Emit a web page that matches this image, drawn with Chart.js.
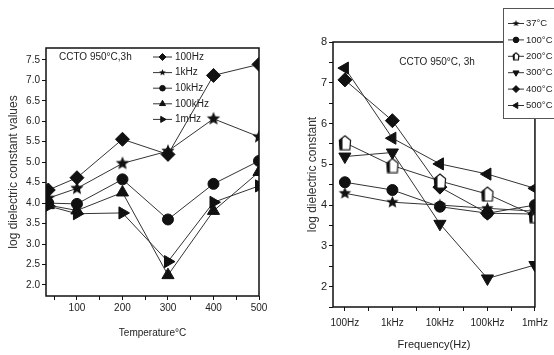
<!DOCTYPE html>
<html>
<head>
<meta charset="utf-8">
<script src="https://cdn.jsdelivr.net/npm/chart.js@4.4.1/dist/chart.umd.min.js"></script>
<style>
body { margin: 0; background: #fff; }
#wrap { position: relative; width: 554px; height: 355px; overflow: hidden; background: #fff; }
#left { position: absolute; left: 0; top: 0; }
#right { position: absolute; left: 280px; top: 0; }
</style>
</head>
<body>
<div id="wrap">
  <canvas id="left" width="280" height="355"></canvas>
  <canvas id="right" width="274" height="355"></canvas>
</div>
<script>
// left panel - values vs temperature
var temps = [37, 100, 200, 300, 400, 500];
var freqNames = ['100Hz', '1kHz', '10kHz', '100kHz', '1mHz'];
var hz100 = [4.32, 4.62, 5.56, 5.19, 7.12, 7.39];
var khz1 = [4.12, 4.36, 4.97, 5.27, 6.06, 5.62];
var khz10 = [4.0, 3.98, 4.58, 3.6, 4.47, 5.03];
var khz100 = [3.95, 3.82, 4.26, 2.24, 3.81, 4.76];
var mhz1 = [3.93, 3.74, 3.76, 2.57, 4.02, 4.42];
var tempTicks = [50, 100, 150, 200, 250, 300, 350, 400, 450, 500];
var leftYTicks = [2.0, 2.5, 3.0, 3.5, 4.0, 4.5, 5.0, 5.5, 6.0, 6.5, 7.0, 7.5];

// right panel - values vs frequency
var freqTicks = ['100Hz', '1kHz', '10kHz', '100kHz', '1mHz'];
var tempNames = ['37°C', '100°C', '200°C', '300°C', '400°C', '500°C'];
var t37 = [4.29, 4.07, 4.0, 3.92, 3.85];
var t100 = [4.56, 4.37, 3.96, 3.8, 4.0];
var t200 = [5.53, 4.97, 4.59, 4.27, 3.74];
var t300 = [5.19, 5.29, 3.54, 2.2, 2.53];
var t400 = [7.07, 6.07, 4.44, 3.8, 3.78];
var t500 = [7.36, 5.64, 5.01, 4.76, 4.41];
var rightYTicks = [1.5, 2, 2.5, 3, 3.5, 4, 4.5, 5, 5.5, 6, 6.5, 7, 7.5, 8];
var freqPos = [0, 0.5, 1, 1.5, 2, 2.5, 3, 3.5, 4];

var ink = '#111';
var lineCol = '#333';
var sans = "'Liberation Sans', Arial, sans-serif";

function starCanvas(r) {
  var s = Math.ceil(r * 2 + 2);
  var c = document.createElement('canvas');
  c.width = s; c.height = s;
  var g = c.getContext('2d');
  g.fillStyle = ink;
  g.beginPath();
  for (var i = 0; i < 10; i++) {
    var rr = i % 2 ? r * 0.45 : r;
    var a = -Math.PI / 2 + i * Math.PI / 5;
    g.lineTo(s / 2 + rr * Math.cos(a), s / 2 + rr * Math.sin(a));
  }
  g.closePath();
  g.fill();
  return c;
}

function halfCanvas(r) {
  var w = Math.ceil(r * 1.7 + 2), h = Math.ceil(r * 2 + 2);
  var c = document.createElement('canvas');
  c.width = w; c.height = h;
  var g = c.getContext('2d');
  var cx = w / 2, cy = h / 2;
  g.beginPath();
  g.moveTo(cx, cy - r);
  g.lineTo(cx + r * 0.8, cy - r * 0.35);
  g.lineTo(cx + r * 0.7, cy + r);
  g.lineTo(cx - r * 0.7, cy + r);
  g.lineTo(cx - r * 0.8, cy - r * 0.35);
  g.closePath();
  g.fillStyle = '#fff';
  g.fill();
  g.save();
  g.clip();
  g.fillStyle = ink;
  g.fillRect(0, 0, cx - r * 0.35, h);
  g.restore();
  g.lineWidth = 1.2;
  g.strokeStyle = ink;
  g.stroke();
  return c;
}

function pts(xs, ys) {
  return ys.map(function (v, i) { return { x: xs[i], y: v }; });
}

function series(label, xs, ys, style, radius, rot, legendStyle, legendR) {
  return {
    label: label,
    data: pts(xs, ys),
    borderColor: lineCol,
    borderWidth: 1,
    backgroundColor: ink,
    pointBackgroundColor: ink,
    pointBorderColor: ink,
    pointBorderWidth: 1,
    pointStyle: style,
    pointRadius: radius,
    pointRotation: rot || 0,
    tension: 0,
    legendStyle: legendStyle || style,
    legendR: legendR
  };
}

// frame + legend + note drawn over the plot
var extras = {
  id: 'extras',
  afterDraw: function (chart) {
    var ctx = chart.ctx, a = chart.chartArea, o = chart.options.plugins.extras;
    ctx.save();
    ctx.strokeStyle = ink;
    ctx.lineWidth = 1.5;
    ctx.strokeRect(a.left, a.top, a.right - a.left, a.bottom - a.top);

    if (o.box) {
      ctx.fillStyle = '#fff';
      ctx.fillRect(o.box[0], o.box[1], o.box[2], o.box[3]);
      ctx.strokeStyle = '#555';
      ctx.lineWidth = 1;
      ctx.strokeRect(o.box[0] + 0.5, o.box[1] + 0.5, o.box[2], o.box[3]);
    }
    ctx.textBaseline = 'middle';
    chart.data.datasets.forEach(function (ds, i) {
      var y = o.y0 + i * o.dy;
      ctx.strokeStyle = lineCol;
      ctx.lineWidth = 1;
      ctx.beginPath();
      ctx.moveTo(o.x0, y);
      ctx.lineTo(o.x1, y);
      ctx.stroke();
      ctx.fillStyle = ink;
      ctx.strokeStyle = ink;
      Chart.helpers.drawPoint(ctx, { pointStyle: ds.legendStyle, radius: ds.legendR, rotation: ds.pointRotation, borderWidth: 1 }, (o.x0 + o.x1) / 2, y);
      ctx.font = o.font;
      ctx.fillStyle = '#222';
      ctx.textAlign = 'left';
      ctx.fillText(ds.label, o.xt, y);
    });
    ctx.font = o.noteFont;
    ctx.fillStyle = '#222';
    ctx.textAlign = o.noteAlign;
    ctx.fillText(o.note, o.noteX, o.noteY);
    ctx.restore();
  }
};

var gridOpts = { display: true, drawOnChartArea: false, drawTicks: true, tickLength: 4, color: ink, lineWidth: 1 };

new Chart(document.getElementById('left'), {
  type: 'line',
  data: {
    datasets: [
      series(freqNames[0], temps, hz100, 'rectRot', 7, 0, 'rectRot', 3.5),
      series(freqNames[1], temps, khz1, starCanvas(7), 7, 0, starCanvas(3.5), 3.5),
      series(freqNames[2], temps, khz10, 'circle', 5.5, 0, 'circle', 2.8),
      series(freqNames[3], temps, khz100, 'triangle', 7, 0, 'triangle', 3.5),
      series(freqNames[4], temps, mhz1, 'triangle', 7, 90, 'triangle', 3.5)
    ]
  },
  options: {
    responsive: false,
    animation: false,
    layout: { padding: { top: 48, right: 21, left: 0, bottom: 0 } },
    plugins: {
      legend: { display: false },
      tooltip: { enabled: false },
      extras: {
        font: '10px ' + sans, noteFont: '10px ' + sans,
        x0: 153, x1: 172, xt: 175, y0: 57, dy: 15.6,
        note: 'CCTO 950°C,3h', noteX: 59, noteY: 57, noteAlign: 'left'
      }
    },
    scales: {
      x: {
        type: 'linear', position: 'bottom', min: 32, max: 500,
        afterFit: function (s) { s.height = 59; },
        afterBuildTicks: function (s) { s.ticks = tempTicks.map(function (v) { return { value: v }; }); },
        grid: gridOpts,
        border: { display: false },
        ticks: {
          autoSkip: false, maxRotation: 0, padding: 2, color: '#222',
          font: { family: sans, size: 10 },
          callback: function (v) { return v % 100 === 0 ? String(v) : ''; }
        },
        title: { display: true, text: 'Temperature°C', color: '#222', padding: { top: 0, bottom: 16 }, font: { family: sans, size: 10 } }
      },
      y: {
        min: 1.73, max: 7.79,
        afterFit: function (s) { s.width = 46; },
        afterBuildTicks: function (s) { s.ticks = leftYTicks.map(function (v) { return { value: v }; }); },
        grid: gridOpts,
        border: { display: false },
        ticks: {
          autoSkip: false, padding: 2, color: '#222',
          font: { family: sans, size: 10 },
          callback: function (v) { return Number(v).toFixed(1); }
        },
        title: { display: true, text: 'log dielectric constant values', color: '#333', padding: { top: 6, bottom: 0 }, font: { family: sans, size: 12 } }
      }
    }
  },
  plugins: [extras]
});

var fx = [0, 1, 2, 3, 4];
new Chart(document.getElementById('right'), {
  type: 'line',
  data: {
    datasets: [
      series(tempNames[0], fx, t37, starCanvas(6.5), 6.5, 0, starCanvas(3.5), 3.5),
      series(tempNames[1], fx, t100, 'circle', 5.5, 0, 'circle', 2.8),
      series(tempNames[2], fx, t200, halfCanvas(7), 7, 0, halfCanvas(3.5), 3.5),
      series(tempNames[3], fx, t300, 'triangle', 7, 180, 'triangle', 3.5),
      series(tempNames[4], fx, t400, 'rectRot', 7, 0, 'rectRot', 3.5),
      series(tempNames[5], fx, t500, 'triangle', 7, 270, 'triangle', 3.5)
    ]
  },
  options: {
    responsive: false,
    animation: false,
    layout: { padding: { top: 42, right: 9, left: 0, bottom: 0 } },
    plugins: {
      legend: { display: false },
      tooltip: { enabled: false },
      extras: {
        box: [223, 8, 60, 110],
        font: '9.5px ' + sans, noteFont: '10px ' + sans,
        x0: 228, x1: 244, xt: 246, y0: 23.5, dy: 16.4,
        note: 'CCTO 950°C, 3h', noteX: 157, noteY: 62, noteAlign: 'center'
      }
    },
    scales: {
      x: {
        type: 'linear', position: 'bottom', min: -0.25, max: 4,
        afterFit: function (s) { s.height = 48; },
        afterBuildTicks: function (s) { s.ticks = freqPos.map(function (v) { return { value: v }; }); },
        grid: gridOpts,
        border: { display: false },
        ticks: {
          autoSkip: false, maxRotation: 0, padding: 6, color: '#222',
          font: { family: sans, size: 10 },
          callback: function (v) { return Number.isInteger(v) ? freqTicks[v] : ''; }
        },
        title: { display: true, text: 'Frequency(Hz)', color: '#222', padding: { top: 0, bottom: 3 }, font: { family: sans, size: 11 } }
      },
      y: {
        min: 1.5, max: 8,
        afterFit: function (s) { s.width = 53; },
        afterBuildTicks: function (s) { s.ticks = rightYTicks.map(function (v) { return { value: v }; }); },
        grid: gridOpts,
        border: { display: false },
        ticks: {
          autoSkip: false, padding: 2, color: '#222',
          font: { family: sans, size: 11 },
          callback: function (v) { return Number.isInteger(v) ? String(v) : ''; }
        },
        title: { display: true, text: 'log dielectric constant', color: '#333', padding: { top: 25, bottom: 0 }, font: { family: sans, size: 12 } }
      }
    }
  },
  plugins: [extras]
});
</script>
</body>
</html>
